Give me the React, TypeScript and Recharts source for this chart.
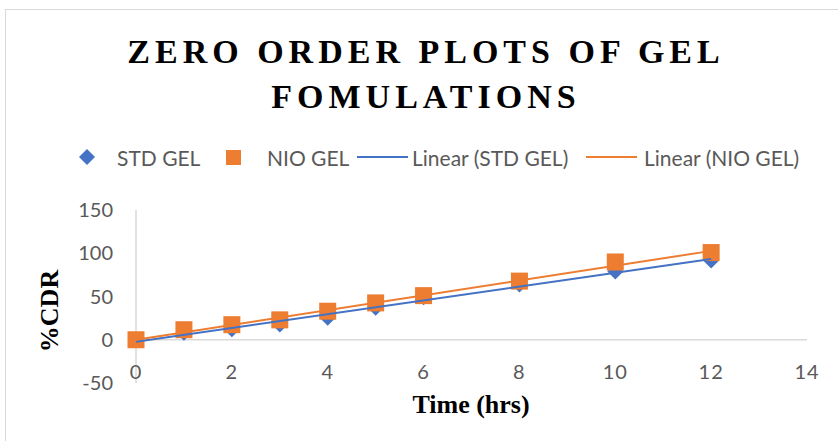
import React from 'react';
import { ComposedChart, Scatter, Line, XAxis, YAxis, ReferenceLine, Legend } from 'recharts';

// ---- data ----
const times = [0, 1, 2, 3, 4, 5, 6, 8, 10, 12];
const stdGel = [0, 8, 12, 17.5, 25.5, 37, 49, 64, 79, 91.5];
const nioGel = [0, 11.6, 17.4, 23, 33, 42.6, 51, 67.8, 89.9, 100.8];
const xTicks = [0, 2, 4, 6, 8, 10, 12, 14];
const yTicks = [-50, 0, 50, 100, 150];
const titleLines = ['ZERO ORDER PLOTS OF GEL', 'FOMULATIONS'];
const xTitle = 'Time (hrs)';
const yTitle = '%CDR';
const seriesNames = ['STD GEL', 'NIO GEL'];
const trendNames = ['Linear (STD GEL)', 'Linear (NIO GEL)'];

const BLUE = '#4472C4';
const ORANGE = '#ED7D31';
const GRAY = '#595959';
const AXIS = '#D9D9D9';
const SANS = 'Lato, "Open Sans", sans-serif';
const SERIF = '"Liberation Serif", "Times New Roman", serif';

const toPoints = (xs: number[], ys: number[]) => xs.map((x, i) => ({ x, y: ys[i] }));

// Linear (least squares) trendline, drawn from min x to max x like the source
function trend(xs: number[], ys: number[]) {
  const n = xs.length;
  const mx = xs.reduce((a, b) => a + b, 0) / n;
  const my = ys.reduce((a, b) => a + b, 0) / n;
  let sxy = 0, sxx = 0;
  xs.forEach((x, i) => { sxy += (x - mx) * (ys[i] - my); sxx += (x - mx) * (x - mx); });
  const m = sxy / sxx;
  const b = my - m * mx;
  const lo = Math.min(...xs), hi = Math.max(...xs);
  return [{ x: lo, y: b + m * lo }, { x: hi, y: b + m * hi }];
}

const stdPts = toPoints(times, stdGel);
const nioPts = toPoints(times, nioGel);
const stdTrend = trend(times, stdGel);
const nioTrend = trend(times, nioGel);

const Diamond = (props: any) => {
  const { cx, cy } = props;
  if (cx == null || cy == null) return null;
  const w = 8, h = 8;
  return <path d={`M${cx},${cy - h}L${cx + w},${cy}L${cx},${cy + h}L${cx - w},${cy}Z`} fill={BLUE} />;
};
const Square = (props: any) => {
  const { cx, cy } = props;
  if (cx == null || cy == null) return null;
  const s = 8.5;
  return <rect x={cx - s} y={cy - s} width={2 * s} height={2 * s} fill={ORANGE} />;
};

const XTick = (props: any) => {
  const { x, y, payload } = props;
  return (
    <text x={x} y={y} dy={-4} textAnchor="middle" fill={GRAY} fontSize={20} fontFamily={SANS} letterSpacing={1}>
      {payload.value}
    </text>
  );
};

const LegendContent = () => {
  const item = (left: number, el: React.ReactNode) => (
    <div style={{ position: 'absolute', left, top: 0, height: 26, display: 'flex', alignItems: 'center' }}>{el}</div>
  );
  const txt = (s: string) => <span style={{ fontFamily: SANS, fontSize: 21, color: GRAY, whiteSpace: 'nowrap' }}>{s}</span>;
  return (
    <div style={{ position: 'relative', width: 838, height: 26 }}>
      {item(79, <svg width={16} height={16}><path d="M8,0L16,8L8,16L0,8Z" fill={BLUE} /></svg>)}
      {item(117, txt(seriesNames[0]))}
      {item(226, <svg width={15} height={15}><rect width={15} height={15} fill={ORANGE} /></svg>)}
      {item(267, txt(seriesNames[1]))}
      {item(357, <svg width={51} height={4}><line x1={0} y1={2} x2={51} y2={2} stroke={BLUE} strokeWidth={2} /></svg>)}
      {item(412, txt(trendNames[0]))}
      {item(586, <svg width={51} height={4}><line x1={0} y1={2} x2={51} y2={2} stroke={ORANGE} strokeWidth={2} /></svg>)}
      {item(644, txt(trendNames[1]))}
    </div>
  );
};

export default function App() {
  return (
    <div style={{ position: 'absolute', left: 0, top: 0, width: 838, height: 441, background: '#fff', overflow: 'hidden' }}>
      <div style={{ position: 'absolute', left: 5, top: 9, width: 850, height: 460, border: `1px solid ${AXIS}` }} />
      <ComposedChart
        width={838}
        height={441}
        margin={{ top: 210, right: 31, bottom: 0, left: 0 }}
        style={{ position: 'absolute', left: 0, top: 0 }}
      >
        <XAxis
          type="number"
          dataKey="x"
          domain={[0, 14]}
          ticks={xTicks}
          height={58}
          axisLine={false}
          tickLine={false}
          tickSize={0}
          tickMargin={0}
          tick={<XTick />}
          interval={0}
        />
        <YAxis
          type="number"
          dataKey="y"
          domain={[-50, 150]}
          ticks={yTicks}
          width={136}
          axisLine={{ stroke: AXIS, strokeWidth: 1.5 }}
          tickLine={false}
          tickSize={0}
          tickMargin={23}
          tick={{ fill: GRAY, fontSize: 20, fontFamily: SANS }}
          interval={0}
        />
        <ReferenceLine y={0} stroke={AXIS} strokeWidth={1.5} />
        <Legend
          layout="horizontal"
          verticalAlign="middle"
          align="center"
          content={<LegendContent />}
          wrapperStyle={{ top: 144, left: 0, width: 838, height: 26 }}
        />
        <Scatter name={seriesNames[0]} data={stdPts} dataKey="y" shape={<Diamond />} isAnimationActive={false} zIndex={500} />
        <Scatter name={seriesNames[1]} data={nioPts} dataKey="y" shape={<Square />} isAnimationActive={false} zIndex={510} />
        <Line name={trendNames[0]} data={stdTrend} dataKey="y" type="linear" stroke={BLUE} strokeWidth={2} dot={false} activeDot={false} isAnimationActive={false} zIndex={700} />
        <Line name={trendNames[1]} data={nioTrend} dataKey="y" type="linear" stroke={ORANGE} strokeWidth={2} dot={false} activeDot={false} isAnimationActive={false} zIndex={710} />
      </ComposedChart>
      <svg width={838} height={441} style={{ position: 'absolute', left: 0, top: 0, pointerEvents: 'none' }}>
        {titleLines.map((t, i) => (
          <text key={t} x={426} y={63 + i * 45} textAnchor="middle" fontFamily={SERIF} fontWeight="bold" fontSize={34} letterSpacing={5} fill="#000">
            {t}
          </text>
        ))}
        <text x={471} y={413} textAnchor="middle" fontFamily={SERIF} fontWeight="bold" fontSize={26} fill="#000">{xTitle}</text>
        <text x={0} y={0} transform="translate(58,311) rotate(-90)" textAnchor="middle" fontFamily={SERIF} fontWeight="bold" fontSize={26} fill="#000">{yTitle}</text>
      </svg>
    </div>
  );
}
